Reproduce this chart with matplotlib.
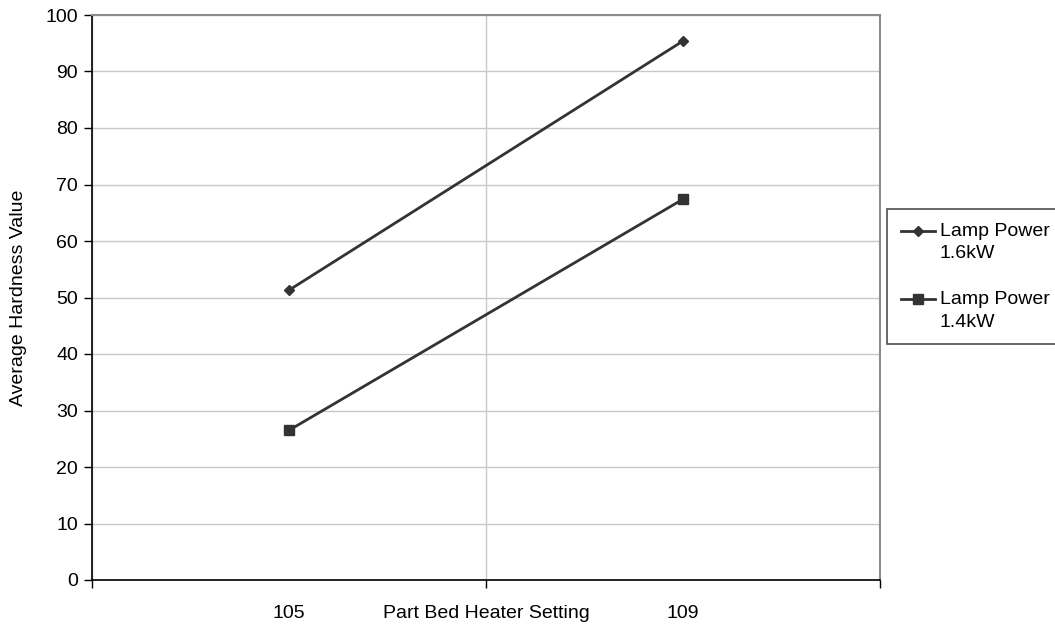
import matplotlib
matplotlib.use("Agg")
import matplotlib.pyplot as plt
from matplotlib.legend_handler import HandlerLine2D

plt.rcParams['font.family'] = ['Liberation Sans', 'DejaVu Sans']

# heater settings on the category axis
settings = ['105', '109']
# average hardness for each lamp power
hard_16kw = [51.3, 95.4]
hard_14kw = [26.5, 67.4]
series_names = ['Lamp Power\n1.6kW', 'Lamp Power\n1.4kW']


class FirstLineHandler(HandlerLine2D):
    # lift the legend line so it sits level with the first line of the label
    def create_artists(self, legend, orig_handle, xdescent, ydescent,
                       width, height, fontsize, trans):
        arts = super().create_artists(legend, orig_handle, xdescent, ydescent,
                                      width, height, fontsize, trans)
        for a in arts:
            a.set_ydata(a.get_ydata() + 0.6 * fontsize)
        return arts


fig = plt.figure(figsize=(10.55, 6.24), dpi=100)
ax = fig.add_axes([92/1055, 44/624, 788/1055, 565/624])

pos = list(range(len(settings)))
l1, = ax.plot(pos, hard_16kw, color='#333333', lw=2, marker='D', ms=5.5,
              label=series_names[0], zorder=3)
l2, = ax.plot(pos, hard_14kw, color='#333333', lw=2, marker='s', ms=7,
              label=series_names[1], zorder=3)

ax.set_xlim(-0.5, 1.5)
ax.set_ylim(0, 100)
ax.set_yticks(range(0, 101, 10))

# category boundaries carry the tick marks, labels sit in the middle
ax.set_xticks([-0.5, 0.5, 1.5])
ax.set_xticklabels([])
ax.set_xticks(pos, minor=True)
ax.set_xticklabels(settings, minor=True)
ax.tick_params(axis='x', which='minor', length=0, pad=18, labelsize=14)
ax.tick_params(axis='x', which='major', length=6, width=1, direction='out', color='black')
ax.tick_params(axis='y', length=6, width=1, direction='out', pad=4, labelsize=14)

ax.grid(True, which='major', color='#c8c8c8', lw=1)
ax.set_axisbelow(True)

for side in ['left', 'bottom']:
    ax.spines[side].set_color('black')
    ax.spines[side].set_linewidth(1.2)
for side in ['top', 'right']:
    ax.spines[side].set_color('#8c8c8c')
    ax.spines[side].set_linewidth(1.5)

ax.set_xlabel('Part Bed Heater Setting', fontsize=14)
ax.xaxis.set_label_coords(0.5, -0.045)
ax.set_ylabel('Average Hardness Value', fontsize=14)
ax.yaxis.set_label_coords(-0.082, 0.5)

leg = ax.legend(handler_map={l1: FirstLineHandler(), l2: FirstLineHandler()},
                loc='upper left', bbox_to_anchor=(887/1055, 1 - 209/624),
                bbox_transform=fig.transFigure, borderaxespad=0, fontsize=14,
                frameon=True, fancybox=False, edgecolor='#222222',
                handlelength=1.75, handletextpad=0.25, labelspacing=1.45,
                borderpad=0.7)
for t in leg.get_texts():
    t.set_linespacing(1.45)
leg.get_frame().set_linewidth(1.2)

fig.savefig('out.png', dpi=100)
